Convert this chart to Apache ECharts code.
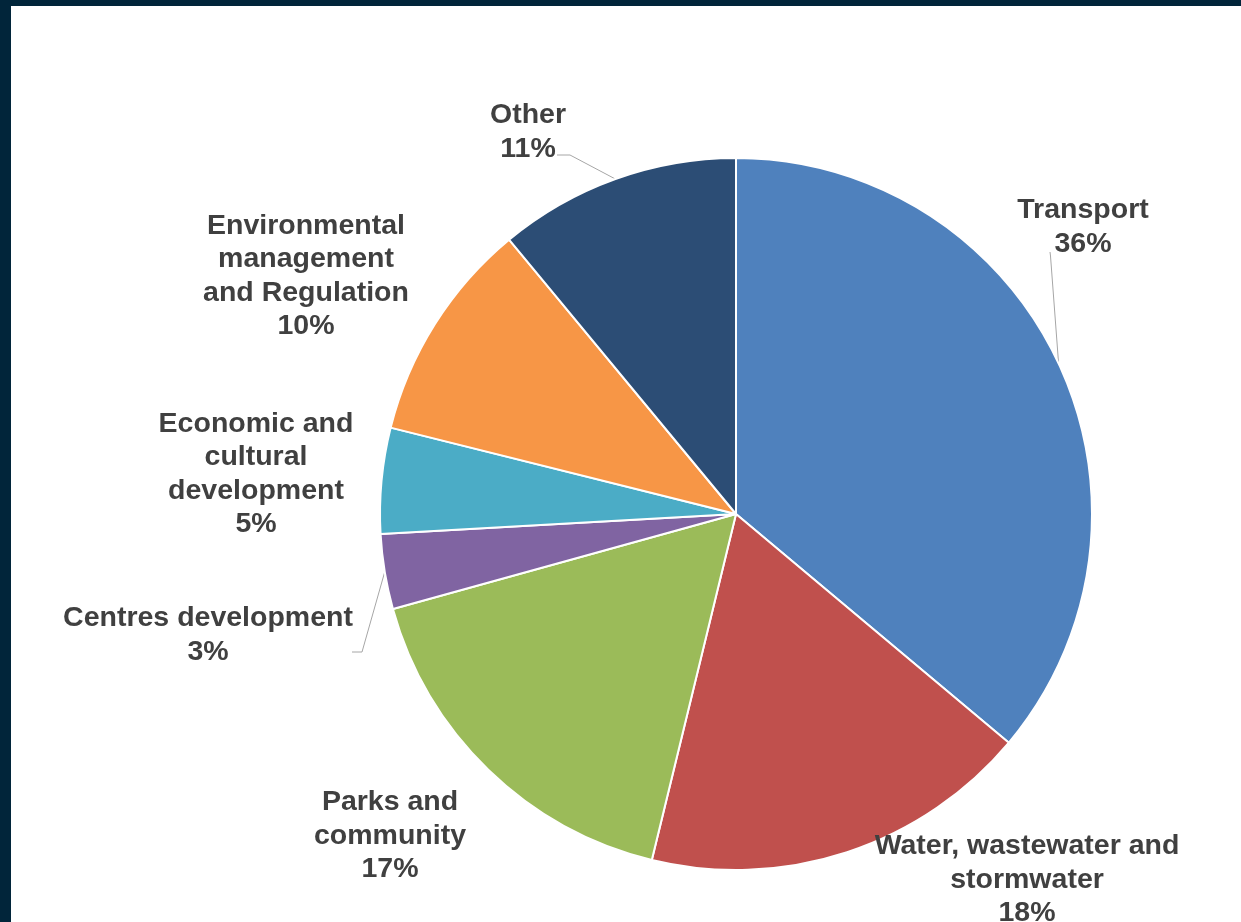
<!DOCTYPE html>
<html>
<head>
<meta charset="utf-8">
<script src="https://cdn.jsdelivr.net/npm/echarts@6/dist/echarts.min.js"></script>
<style>
  html, body { margin: 0; padding: 0; width: 1241px; height: 922px; background: #01253a; overflow: hidden; }
  #chart { position: absolute; left: 11px; top: 6px; width: 1230px; height: 916px; background: #ffffff; }
</style>
</head>
<body>
<div id="chart"></div>
<script>
// ---- data ----
var categories = ['Transport', 'Water, wastewater and\nstormwater', 'Parks and\ncommunity', 'Centres development',
                  'Economic and\ncultural\ndevelopment', 'Environmental\nmanagement\nand Regulation', 'Other'];
var shares = [36.1, 17.7, 16.9, 3.4, 4.8, 10.1, 11.0];
var colors = ['#4f81bd', '#c0504d', '#9bbb59', '#8064a2', '#4bacc6', '#f79646', '#2c4d75'];

// ---- layout (container px) ----
var CX = 725, CY = 508, R = 356;
var labelPos = [[1072, 221], [1016, 874], [379, 830], [197, 629], [245, 468], [295, 270], [517, 126]];
var leaderBends = {
  0: [[1039.5, 250], [1039, 246]],
  3: [[351, 646], [341, 646]],
  6: [[559, 149], [546, 149]]
};

var total = shares.reduce(function (a, b) { return a + b; }, 0);
function edgePoint(i) {
  var cum = 0;
  for (var k = 0; k < i; k++) cum += shares[k];
  var a = (cum + shares[i] / 2) / total * Math.PI * 2;
  return [CX + R * Math.sin(a), CY - R * Math.cos(a)];
}

var data = categories.map(function (name, i) {
  return {
    name: name,
    value: shares[i],
    itemStyle: { color: colors[i] },
    labelLine: { show: !!leaderBends[i] }
  };
});

var chart = echarts.init(document.getElementById('chart'), null, { renderer: 'canvas' });
chart.setOption({
  animation: false,
  series: [{
    type: 'pie',
    center: [CX, CY],
    radius: [0, R],
    startAngle: 90,
    clockwise: true,
    avoidLabelOverlap: false,
    percentPrecision: 0,
    data: data,
    itemStyle: { borderColor: '#ffffff', borderWidth: 2 },
    emphasis: { disabled: true },
    label: {
      show: true,
      position: 'outside',
      formatter: '{b}\n{d}%',
      fontFamily: '"Liberation Sans", Arial, sans-serif',
      fontWeight: 'bold',
      fontSize: 28.5,
      lineHeight: 33.5,
      color: '#404040'
    },
    labelLine: {
      show: true,
      length: 10,
      length2: 10,
      lineStyle: { color: '#a6a6a6', width: 1 }
    },
    labelLayout: function (p) {
      var i = p.dataIndex;
      var out = { x: labelPos[i][0], y: labelPos[i][1], align: 'center', verticalAlign: 'middle' };
      if (leaderBends[i]) {
        out.labelLinePoints = [edgePoint(i)].concat(leaderBends[i]);
      }
      return out;
    }
  }]
});
</script>
</body>
</html>
